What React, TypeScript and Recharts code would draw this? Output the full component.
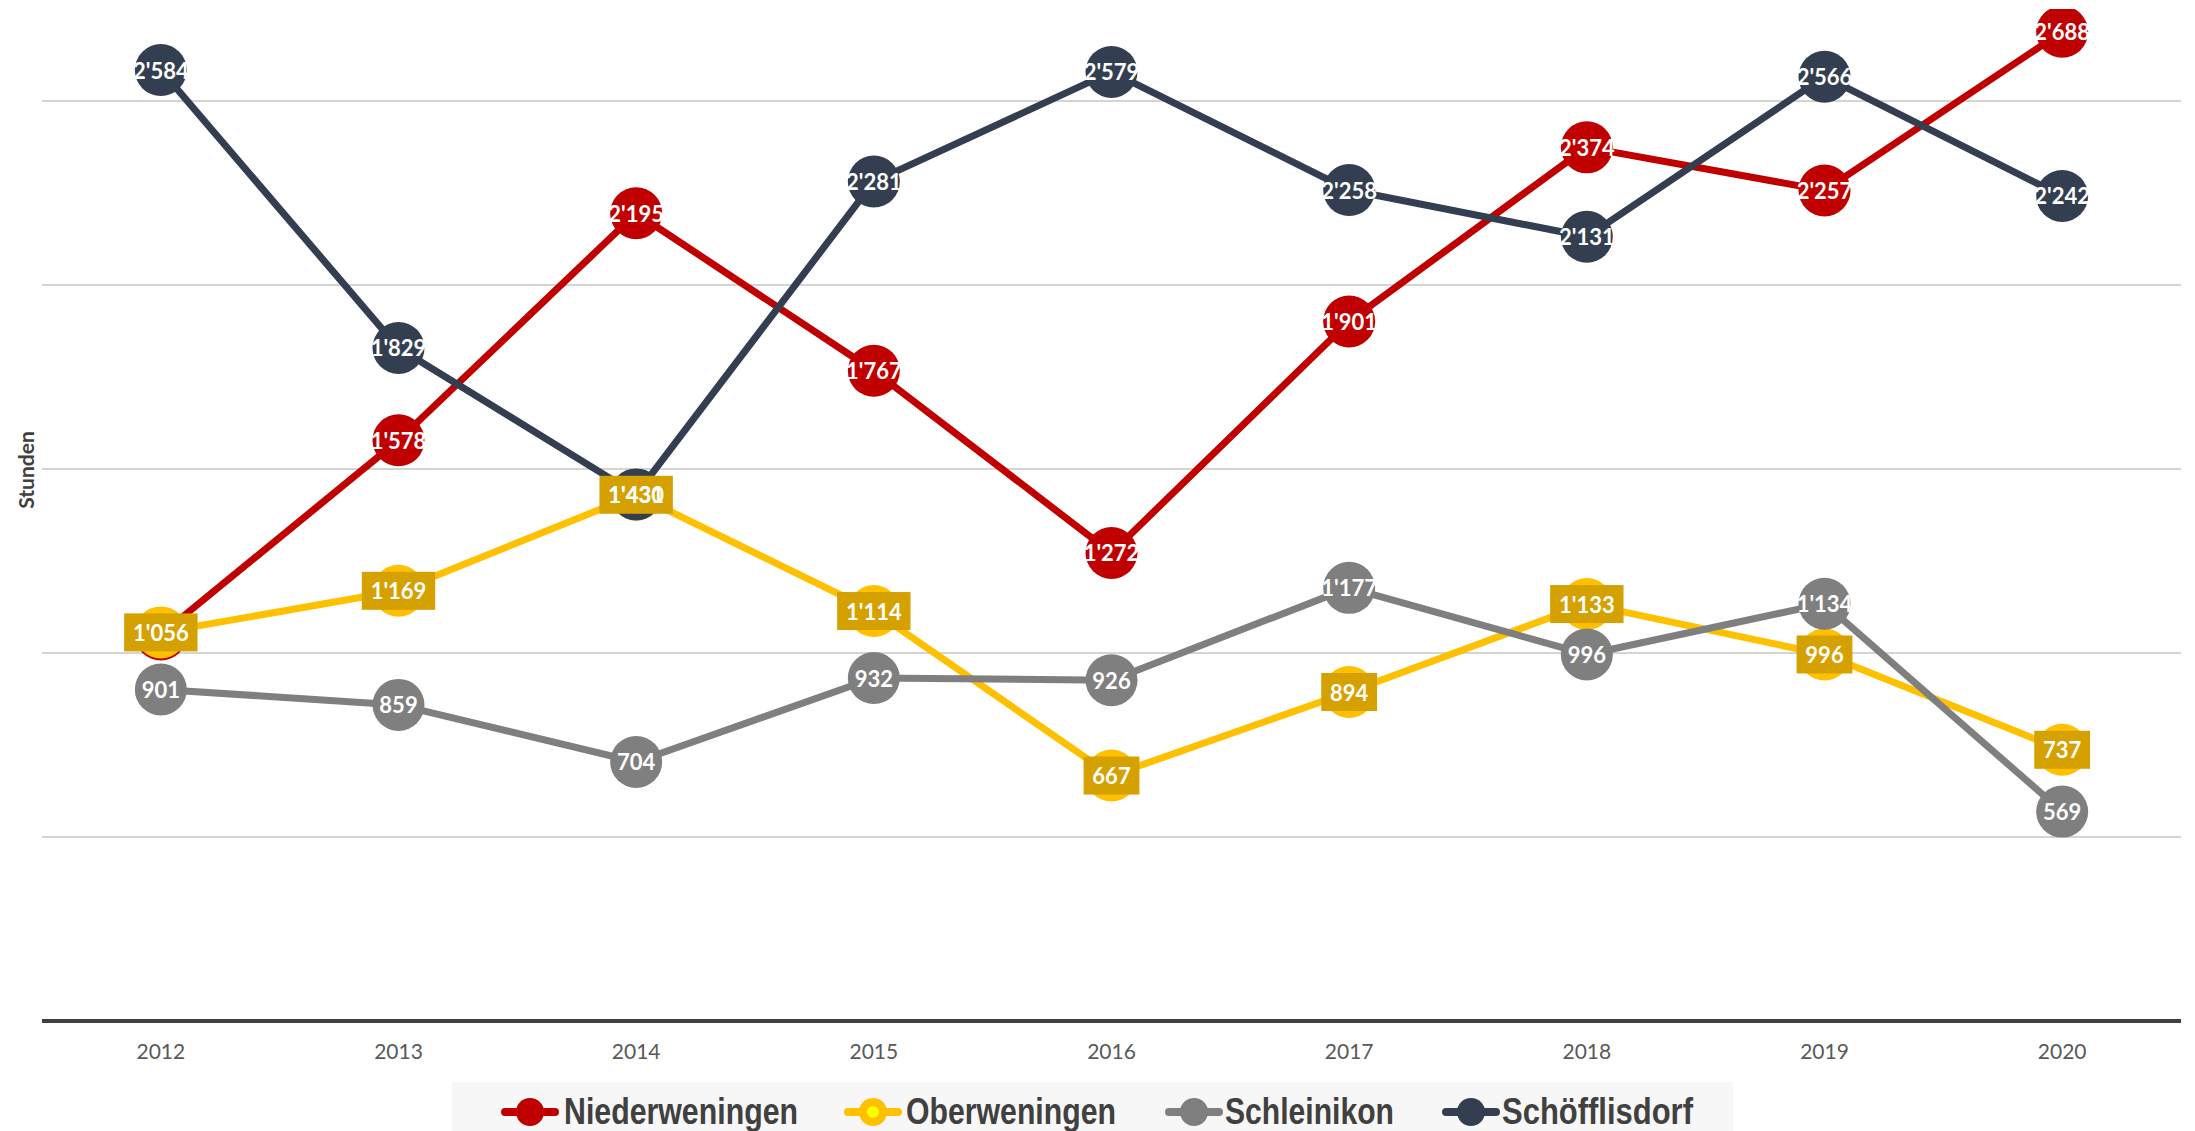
import React from 'react';
import { LineChart, Line, XAxis, YAxis, ReferenceLine, LabelList } from 'recharts';

const years = ['2012', '2013', '2014', '2015', '2016', '2017', '2018', '2019', '2020'];
const niederweningen = [1050, 1578, 2195, 1767, 1272, 1901, 2374, 2257, 2688];
const oberweningen = [1056, 1169, 1430, 1114, 667, 894, 1133, 996, 737];
const schleinikon = [901, 859, 704, 932, 926, 1177, 996, 1134, 569];
const schoefflisdorf = [2584, 1829, 1431, 2281, 2579, 2258, 2131, 2566, 2242];
const yTicks = [0, 500, 1000, 1500, 2000, 2500];

const series = [
  { key: 'n', name: 'Niederweningen', color: '#c00000', values: niederweningen, box: false },
  { key: 'o', name: 'Oberweningen', color: '#ffc000', values: oberweningen, box: true },
  { key: 's', name: 'Schleinikon', color: '#7f7f7f', values: schleinikon, box: false },
  { key: 'f', name: 'Schöfflisdorf', color: '#333f50', values: schoefflisdorf, box: false },
];

// legend layout (page pixels): icon start, text start, text width
const legendLayout = [
  { icon: 501, text: 564, width: 234 },
  { icon: 844, text: 906, width: 210 },
  { icon: 1165, text: 1225, width: 169 },
  { icon: 1442, text: 1502, width: 191 },
];

const data = years.map((year, i) => {
  const row: any = { year };
  series.forEach((s) => { row[s.key] = s.values[i]; });
  return row;
});

const fmt = (v: number) => {
  const s = String(Math.round(v));
  return s.length > 3 ? s.slice(0, s.length - 3) + "'" + s.slice(s.length - 3) : s;
};

const LABEL_FONT = 'Lato, "Open Sans", sans-serif';

const makeLabel = (box: boolean) => (props: any) => {
  const { x, y, value } = props;
  if (x == null || y == null) return null;
  const t = fmt(value);
  const digits = t.replace("'", '').length;
  const w = digits * 12.6 + (t.includes("'") ? 5 : 0) + 18;
  return (
    <g>
      {box && <rect x={x - w / 2} y={y - 19} width={w} height={38} fill="#d4a100" />}
      <text x={x} y={y} textAnchor="middle" dominantBaseline="central" fill="#ffffff"
        fontFamily={LABEL_FONT} fontWeight={700} fontSize={22}>{t}</text>
    </g>
  );
};

const makeDot = (color: string) => (props: any) => {
  const { cx, cy, index } = props;
  if (cx == null || cy == null) return <g key={index} />;
  return <circle key={index} cx={cx} cy={cy} r={26} fill={color} />;
};

const YLabel = () => (
  <text x={25} y={470} transform="rotate(-90 25 470)" textAnchor="middle" dominantBaseline="central"
    fill="#404040" fontFamily={LABEL_FONT} fontWeight={700} fontSize={21}>Stunden</text>
);

const LegendBox = () => (
  <svg width={2195} height={1131} style={{ position: 'absolute', left: 0, top: 0, pointerEvents: 'none' }}>
    <rect x={452} y={1082} width={1281} height={60} fill="#f7f7f7" />
    {series.map((s, i) => {
      const l = legendLayout[i];
      return (
        <g key={s.key}>
          <line x1={l.icon + 4} x2={l.icon + 54} y1={1112} y2={1112} stroke={s.color} strokeWidth={8} strokeLinecap="round" />
          <circle cx={l.icon + 29} cy={1112} r={14} fill={s.color} />
          {s.box && <circle cx={l.icon + 29} cy={1112} r={6} fill="#ffff00" />}
          <text x={l.text} y={1124} textLength={l.width} lengthAdjust="spacingAndGlyphs"
            fontFamily='"Liberation Sans", Arial, sans-serif' fontWeight={700} fontSize={37} fill="#404040">{s.name}</text>
        </g>
      );
    })}
  </svg>
);

export default function App() {
  return (
    <div style={{ position: 'fixed', left: 0, top: 0, width: 2195, height: 1131, overflow: 'hidden', background: '#fff' }}>
      <LineChart width={2195} height={1131} data={data} margin={{ top: 9, right: 14, bottom: 70, left: 0 }}>
        <XAxis dataKey="year" scale="band" height={40} axisLine={false} tickLine={false}
          tickMargin={17} tick={{ fill: '#595959', fontSize: 21, fontFamily: LABEL_FONT }} />
        <YAxis width={42} domain={[0, 2750]} ticks={yTicks} tick={false} axisLine={false} tickLine={false}
          allowDataOverflow label={{ content: () => <YLabel /> }} />
        {yTicks.map((t) => (
          <ReferenceLine key={'g' + t} y={t} stroke={t === 0 ? '#404040' : '#c6c6c6'} strokeWidth={t === 0 ? 4 : 1.5} />
        ))}
        {series.map((s) => (
          <Line key={s.key} dataKey={s.key} name={s.name} stroke={s.color} strokeWidth={7}
            strokeLinejoin="round" dot={makeDot(s.color)} activeDot={false} isAnimationActive={false} />
        ))}
        {series.map((s) => (
          <Line key={s.key + '-lbl'} dataKey={s.key} stroke="none" dot={false} activeDot={false}
            legendType="none" isAnimationActive={false}>
            <LabelList dataKey={s.key} content={makeLabel(s.box)} />
          </Line>
        ))}
      </LineChart>
      <LegendBox />
    </div>
  );
}
